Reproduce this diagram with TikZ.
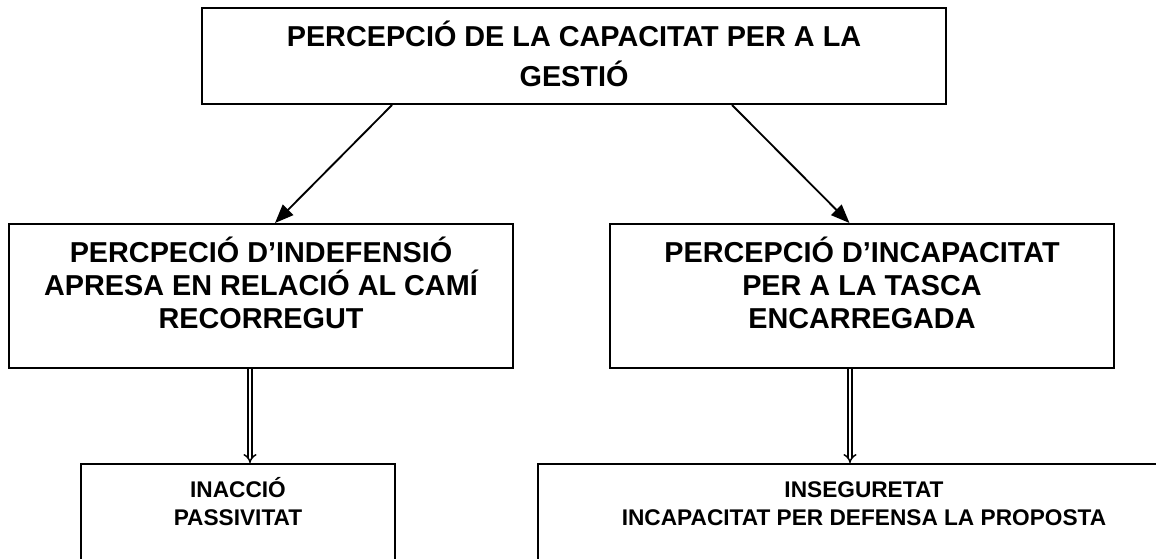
\documentclass[tikz,border=0pt]{standalone}
\usepackage{fontspec}
\setmainfont{Liberation Sans}
\usetikzlibrary{arrows.meta}

\begin{document}
\begin{tikzpicture}[x=0.75pt, y=-0.75pt,
    box/.style={draw, line width=1.5pt, inner sep=0pt, font=\bfseries},
    arr/.style={line width=1.4pt, -{Triangle[length=14pt, width=11pt]}},
    dbl/.style={double, line width=1.1pt, double distance=2.2pt, -Implies}]
        \clip (0,0) rectangle (1156,559);
        % Top
        \node[box] (gestio) at (574,56) {\parbox[c][72pt][t]{558pt}{\centering\fontsize{21.6pt}{30pt}\selectfont
          \rule{0pt}{29.25pt}PERCEPCIÓ DE LA CAPACITAT PER A LA\\ GESTIÓ}};
        % Middle
        \node[box] (indefensio) at (261,296) {\parbox[c][108pt][t]{378pt}{\centering\fontsize{21.6pt}{24.5pt}\selectfont
          \rule{0pt}{29.25pt}PERCPECIÓ D’INDEFENSIÓ\\ APRESA EN RELACIÓ AL CAMÍ\\ RECORREGUT}};
        \node[box] (incapacitat) at (862,296) {\parbox[c][108pt][t]{378pt}{\centering\fontsize{21.6pt}{24.5pt}\selectfont
          \rule{0pt}{29.25pt}PERCEPCIÓ D’INCAPACITAT\\ PER A LA TASCA\\ ENCARREGADA}};
        % Bottom
        \node[box] (inaccio) at (238,532) {\parbox[c][102pt][t]{235.5pt}{\centering\fontsize{17pt}{21pt}\selectfont
          \rule{0pt}{24.75pt}INACCIÓ\\ PASSIVITAT}};
        \node[box] (inseguretat) at (864,532) {\parbox[c][102pt][t]{489pt}{\centering\fontsize{17pt}{21pt}\selectfont
          \rule{0pt}{24.75pt}INSEGURETAT\\ INCAPACITAT PER DEFENSA LA PROPOSTA}};
        % Arrows
        \draw[arr] ([xshift=143.25pt]gestio.south west) -- ([xshift=10.5pt]indefensio.north);
        \draw[arr] ([xshift=-161.25pt]gestio.south east) -- ([xshift=-9.4pt]incapacitat.north);
        \coordinate (dblL) at ([xshift=-8.25pt]indefensio.south);
        \coordinate (dblR) at ([xshift=-9pt]incapacitat.south);
        \draw[dbl] (dblL) -- (dblL |- inaccio.north);
        \draw[dbl] (dblR) -- (dblR |- inseguretat.north);
      \end{tikzpicture}
\end{document}
